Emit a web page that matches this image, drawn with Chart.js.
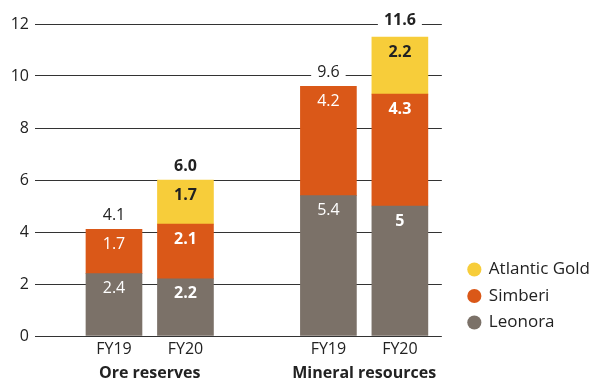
<!DOCTYPE html>
<html>
<head>
<meta charset="utf-8">
<script src="https://cdn.jsdelivr.net/npm/chart.js@4.4.1/dist/chart.umd.min.js"></script>
<style>
  html, body { margin: 0; padding: 0; background: #fff; }
  #wrap { width: 598px; height: 381px; position: relative; }
</style>
</head>
<body>
<div id="wrap"><canvas id="chart"></canvas></div>
<script>
// Data
const groups = ['Ore reserves', 'Mineral resources'];
const years = ['FY19', 'FY20'];
const leonora = [2.4, 2.2, 5.4, 5];
const simberi = [1.7, 2.1, 4.2, 4.3];
const atlanticGold = [null, 1.7, null, 2.2];
const totals = [4.1, 6.0, 9.6, 11.6];
const yTicks = [0, 2, 4, 6, 8, 10, 12];

// bar slots: two years per group, one empty slot between groups
const slots = [];
const barLabels = [];
groups.forEach((g, gi) => {
    years.forEach((y, yi) => {
        slots.push(gi * 3 + yi);
        barLabels.push(y);
    });
});
const groupCenters = groups.map((g, gi) => gi * 3 + 0.5);

const toPoints = arr => arr.map((v, i) => ({ x: slots[i], y: v }));

const FONT = "'Open Sans', 'Noto Sans', sans-serif";
const TEXT = '#222222';
const X_MIN = -1.105, X_MAX = 4.587;

// draws segment values and totals
const valueLabels = {
    id: 'valueLabels',
    afterLayout(chart) {
        // legend sits a little above the bottom edge
        chart.legend.bottom = chart.chartArea.bottom + 4.5;
    },
    afterDatasetsDraw(chart) {
        const ctx = chart.ctx;
        ctx.save();
        ctx.textAlign = 'center';
        ctx.textBaseline = 'middle';
        chart.data.datasets.forEach((ds, di) => {
            const meta = chart.getDatasetMeta(di);
            meta.data.forEach((el, i) => {
                const v = ds.data[i].y;
                if (v === null || v === undefined) return;
                const bold = barLabels[i] === 'FY20';
                ctx.font = (bold ? 'bold ' : '') + '16px ' + FONT;
                ctx.fillStyle = ds.label === 'Atlantic Gold' ? TEXT : '#ffffff';
                ctx.fillText(String(v), el.x, el.y + 15);
            });
        });
        // totals above stacks
        const top = chart.getDatasetMeta(0);
        totals.forEach((t, i) => {
            const x = top.data[i].x;
            const y = chart.scales.y.getPixelForValue(t) - 15;
            const bold = barLabels[i] === 'FY20';
            ctx.font = (bold ? 'bold ' : '') + '16px ' + FONT;
            const s = t.toFixed(1);
            const w = ctx.measureText(s).width;
            ctx.fillStyle = '#ffffff';
            ctx.fillRect(x - w / 2 - 6, y - 9, w + 12, 18);
            ctx.fillStyle = TEXT;
            ctx.fillText(s, x, y + 1);
        });
        ctx.restore();
    }
};

new Chart(document.getElementById('chart'), {
    type: 'bar',
    data: {
        datasets: [
            { label: 'Leonora', data: toPoints(leonora), backgroundColor: '#7b7168' },
            { label: 'Simberi', data: toPoints(simberi), backgroundColor: '#da5818' },
            { label: 'Atlantic Gold', data: toPoints(atlanticGold), backgroundColor: '#f7cd3a' }
        ]
    },
    options: {
        responsive: true,
        maintainAspectRatio: false,
        animation: false,
        layout: { padding: { top: 24, right: -2, left: 0, bottom: 0 } },
        datasets: { bar: { barThickness: 56, borderWidth: 0 } },
        scales: {
            x: {
                type: 'linear',
                stacked: true,
                offset: false,
                min: X_MIN,
                max: X_MAX,
                grid: { display: false, drawTicks: false },
                border: { display: false },
                afterBuildTicks(scale) { scale.ticks = slots.map(v => ({ value: v })); },
                afterFit(scale) { scale.height = 22; },
                ticks: {
                    autoSkip: false,
                    maxRotation: 0,
                    padding: 3.5,
                    color: TEXT,
                    font: { family: FONT, size: 16 },
                    callback: (v, i) => barLabels[i]
                }
            },
            groupAxis: {
                type: 'linear',
                position: 'bottom',
                offset: false,
                min: X_MIN,
                max: X_MAX,
                grid: { display: false, drawTicks: false },
                border: { display: false },
                afterBuildTicks(scale) { scale.ticks = groupCenters.map(v => ({ value: v })); },
                afterFit(scale) { scale.height = 23; },
                ticks: {
                    autoSkip: false,
                    maxRotation: 0,
                    padding: 6,
                    color: TEXT,
                    font: { family: FONT, size: 16, weight: 'bold' },
                    callback: (v, i) => groups[i]
                }
            },
            y: {
                stacked: true,
                min: 0,
                max: 12,
                afterBuildTicks(scale) { scale.ticks = yTicks.map(v => ({ value: v })); },
                afterFit(scale) { scale.width = 35; },
                grid: { color: '#333333', lineWidth: 1, drawTicks: false },
                border: { display: false },
                ticks: {
                    padding: 6,
                    color: TEXT,
                    font: { family: FONT, size: 16 }
                }
            },
            // empty strip between plot and legend
            gap: {
                position: 'right',
                grid: { display: false, drawTicks: false },
                border: { display: false },
                ticks: { display: false },
                afterFit(scale) { scale.width = 17; }
            }
        },
        plugins: {
            legend: {
                position: 'right',
                align: 'end',
                reverse: true,
                maxWidth: 200,
                labels: {
                    usePointStyle: true,
                    pointStyle: 'circle',
                    boxWidth: 12,
                    boxHeight: 10,
                    padding: 9.5,
                    color: TEXT,
                    font: { family: FONT, size: 17 }
                }
            },
            tooltip: { enabled: false }
        }
    },
    plugins: [valueLabels]
});
</script>
</body>
</html>
